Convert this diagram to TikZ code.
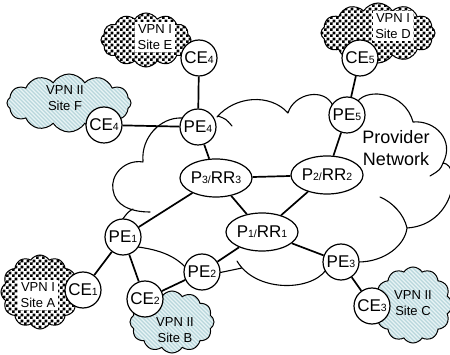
\documentclass[tikz,border=0pt]{standalone}
\usepackage{fontspec}
\setmainfont{Liberation Sans}
\usetikzlibrary{shapes.geometric,shapes.symbols,patterns}

\pgfdeclarepatternformonly{vpncheck}{\pgfpointorigin}{\pgfqpoint{6pt}{6pt}}{\pgfqpoint{6pt}{6pt}}{%
  \pgfpathrectangle{\pgfpointorigin}{\pgfqpoint{3.1pt}{3.1pt}}%
  \pgfpathrectangle{\pgfqpoint{3pt}{3pt}}{\pgfqpoint{3.1pt}{3.1pt}}%
  \pgfusepath{fill}}
\pgfdeclarepatternformonly{vpnhatch}{\pgfqpoint{-1pt}{-1pt}}{\pgfqpoint{5pt}{5pt}}{\pgfqpoint{4pt}{4pt}}{%
  \pgfsetlinewidth{1.1pt}%
  \pgfpathmoveto{\pgfqpoint{0pt}{4pt}}%
  \pgfpathlineto{\pgfqpoint{4.1pt}{-0.1pt}}%
  \pgfusepath{stroke}}

\definecolor{hatchbg}{HTML}{E8F4F5}
\definecolor{hatchline}{HTML}{B8D6DC}

\newcommand\lowsub[1]{{\fontsize{10.5}{12}\selectfont #1}}

\tikzset{
  dev/.style={circle, draw, line width=1.2pt, fill=white, minimum size=36pt,
    inner sep=0pt, font=\fontsize{17}{19}\selectfont},
  rrnode/.style={ellipse, draw, line width=1.2pt, fill=white, minimum width=72pt,
    minimum height=38pt, inner sep=0pt, font=\fontsize{17}{19}\selectfont},
  link/.style={line width=1.7pt},
  cloudline/.style={line width=1.1pt, line cap=round},
  vpnone/.style={cloud, cloud puffs=12, cloud puff arc=115, cloud ignores aspect,
    draw, line width=1pt, preaction={fill=white}, pattern=vpncheck, inner sep=0pt},
  vpntwo/.style={cloud, cloud puffs=12, cloud puff arc=115, cloud ignores aspect,
    draw, line width=1pt, preaction={fill=hatchbg}, pattern=vpnhatch,
    pattern color=hatchline, inner sep=0pt},
  sitelabel/.style={align=center, font=\fontsize{13}{16}\selectfont, inner sep=1pt},
  sitebox/.style={sitelabel, fill=white, inner sep=2.5pt},
}

\begin{document}
\begin{tikzpicture}[x=1pt,y=-1pt]
\useasboundingbox (0,0) rectangle (450,355);

% small clouds
\node[vpnone, minimum width=90pt, minimum height=54pt] (cloudE) at (146,40) {};
\node[vpnone, minimum width=114pt, minimum height=60pt] (cloudD) at (378,33) {};
\node[vpntwo, minimum width=124pt, minimum height=58pt] (cloudF) at (69,103) {};
\node[vpnone, minimum width=78pt, minimum height=74pt] (cloudA) at (40,292) {};
\node[vpntwo, minimum width=84pt, minimum height=62pt] (cloudB) at (172,322) {};
\node[vpntwo, minimum width=78pt, minimum height=76pt] (cloudC) at (413,305) {};

% provider network cloud
\draw[cloudline]
  (182,118) .. controls (160,117) and (141,138) .. (143,161)
  (143,162) .. controls (125,159) and (110,175) .. (113,190)
            .. controls (115,205) and (130,212) .. (150,212)
  (133,209) .. controls (128,212) .. (122,220)
  (138,247) .. controls (160,250) and (176,256) .. (188,270)
  (218,273) .. controls (230,270) .. (242,268)
  (237,261) .. controls (255,292) and (310,292) .. (326,270)
  (358,262) .. controls (385,262) and (405,245) .. (407,228)
  (380,197) .. controls (392,202) and (404,214) .. (407,228)
  (407,228) .. controls (455,225) and (462,165) .. (443,163)
  (443,163) .. controls (440,170) .. (430,176)
  (413,122) .. controls (435,120) and (455,140) .. (443,163)
  (358,101) .. controls (368,88) and (405,92) .. (413,122)
  (288,113) .. controls (294,93) and (325,87) .. (333,106)
  (217,117) .. controls (235,96) and (270,93) .. (288,113)
  (218,116) .. controls (226,119) .. (232,126);

\node[align=center, font=\fontsize{18}{22}\selectfont] (prov) at (396,148) {Provider\\Network};

% devices
\node[dev] (ce4e) at (199,58) {CE\lowsub{4}};
\node[dev] (ce4f) at (104,125) {CE\lowsub{4}};
\node[dev] (pe4) at (198,127) {PE\lowsub{4}};
\node[dev] (ce5) at (360,58) {CE\lowsub{5}};
\node[dev] (pe5) at (347,115) {PE\lowsub{5}};
\node[rrnode] (p2) at (327,175) {P\lowsub{2/}RR\lowsub{2}};
\node[rrnode] (p3) at (216,178) {P\lowsub{3/}RR\lowsub{3}};
\node[rrnode] (p1) at (262,232) {P\lowsub{1/}RR\lowsub{1}};
\node[dev] (pe3) at (341,262) {PE\lowsub{3}};
\node[dev] (ce3) at (372,306) {CE\lowsub{3}};
\node[dev] (pe1) at (123,237) {PE\lowsub{1}};
\node[dev] (pe2) at (202,272) {PE\lowsub{2}};
\node[dev] (ce1) at (83,290) {CE\lowsub{1}};
\node[dev] (ce2) at (145,299) {CE\lowsub{2}};

% links
\draw[link] (ce4e) -- (pe4);
\draw[link] (ce4f) -- (pe4);
\draw[link] (pe4) -- (p3);
\draw[link] (ce5) -- (pe5);
\draw[link] (pe5) -- (p2);
\draw[link] (p3) -- (p2);
\draw[link] (p3) -- (p1);
\draw[link] (p2) -- (p1);
\draw[link] (p3) -- (pe1);
\draw[link] (p1) -- (pe2);
\draw[link] (p1) -- (pe3);
\draw[link] (pe3) -- (ce3);
\draw[link] (pe1) -- (ce1);
\draw[link] (pe1) -- (ce2);
\draw[link] (ce2) -- (pe2);

% site labels
\node[sitebox] (lblE) at (155,37) {VPN I\\Site E};
\node[sitebox] (lblD) at (393,26) {VPN I\\Site D};
\node[sitelabel] (lblF) at (65,98) {VPN II\\Site F};
\node[sitebox] (lblA) at (38,295) {VPN I\\Site A};
\node[sitelabel] (lblB) at (175,330) {VPN II\\Site B};
\node[sitelabel] (lblC) at (413,303) {VPN II\\Site C};
\end{tikzpicture}
\end{document}
